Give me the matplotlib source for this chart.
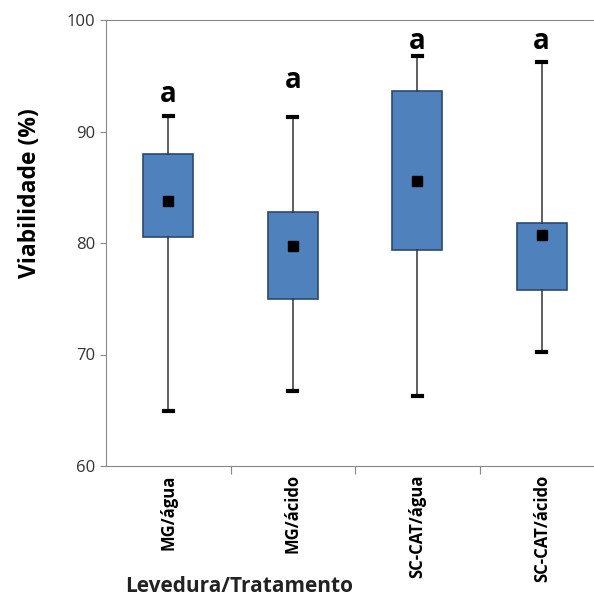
import matplotlib
matplotlib.use('Agg')
import matplotlib.pyplot as plt

plt.rcParams['font.family'] = ['Open Sans', 'DejaVu Sans']

categories = ['MG/água', 'MG/ácido', 'SC-CAT/água', 'SC-CAT/ácido']
q1 = [80.5, 75.0, 79.4, 75.8]
q3 = [88.0, 82.8, 93.6, 81.8]
means = [83.8, 79.7, 85.6, 80.7]
whisker_low = [64.9, 66.7, 66.3, 70.2]
whisker_high = [91.4, 91.3, 96.8, 96.2]
letters = ['a', 'a', 'a', 'a']
letter_y = [93.3, 94.6, 98.1, 98.1]

stats = []
for i in range(len(categories)):
  stats.append({'label': categories[i], 'q1': q1[i], 'q3': q3[i], 'med': means[i],
                'mean': means[i], 'whislo': whisker_low[i], 'whishi': whisker_high[i],
                'fliers': []})

fig = plt.figure(figsize=(5.94, 5.97), dpi=100)
ax = fig.add_axes([106/594, 1 - 466/597, 498/594, 446/597])

ax.bxp(stats, positions=range(1, 5), widths=0.4, patch_artist=True, showmeans=True,
       boxprops=dict(facecolor='#4f81bd', edgecolor='#2c4a6e', linewidth=1.2),
       medianprops=dict(linewidth=0),
       whiskerprops=dict(color='#333333', linewidth=1.1),
       capprops=dict(color='black', linewidth=3),
       capwidths=0.07,
       meanprops=dict(marker='s', markerfacecolor='black', markeredgecolor='black', markersize=7))

for i, t in enumerate(letters):
  ax.text(i + 1, letter_y[i], t, ha='center', va='center', fontsize=20, fontweight='bold')

ax.set_ylim(60, 100)
ax.set_xlim(0.5, 4.5)
ax.set_yticks([60, 70, 80, 90, 100])
ax.tick_params(axis='y', labelsize=12, labelcolor='#333333', direction='out', length=4, color='#888888')

# category boundary ticks on the x axis
ax.set_xticks([1.5, 2.5, 3.5], minor=False)
ax.set_xticklabels([])
ax.tick_params(axis='x', direction='out', length=6, color='#888888')
ax.set_xticks(range(1, 5), minor=True)
ax.set_xticklabels(categories, minor=True, rotation=90, fontsize=12, fontweight='bold')
ax.tick_params(axis='x', which='minor', length=0, pad=6)

for s in ['left', 'bottom', 'top']:
  ax.spines[s].set_color('#888888')
ax.spines['right'].set_visible(False)

fig.text(30/594, 1 - 193/597, 'Viabilidade (%)', rotation=90, ha='center', va='center',
         fontsize=16.5, fontweight='bold')
fig.text(239/594, 1 - 586/597, 'Levedura/Tratamento', ha='center', va='center',
         fontsize=15, fontweight='bold', color='#222222')

plt.savefig('out.png', dpi=100)
plt.close()
